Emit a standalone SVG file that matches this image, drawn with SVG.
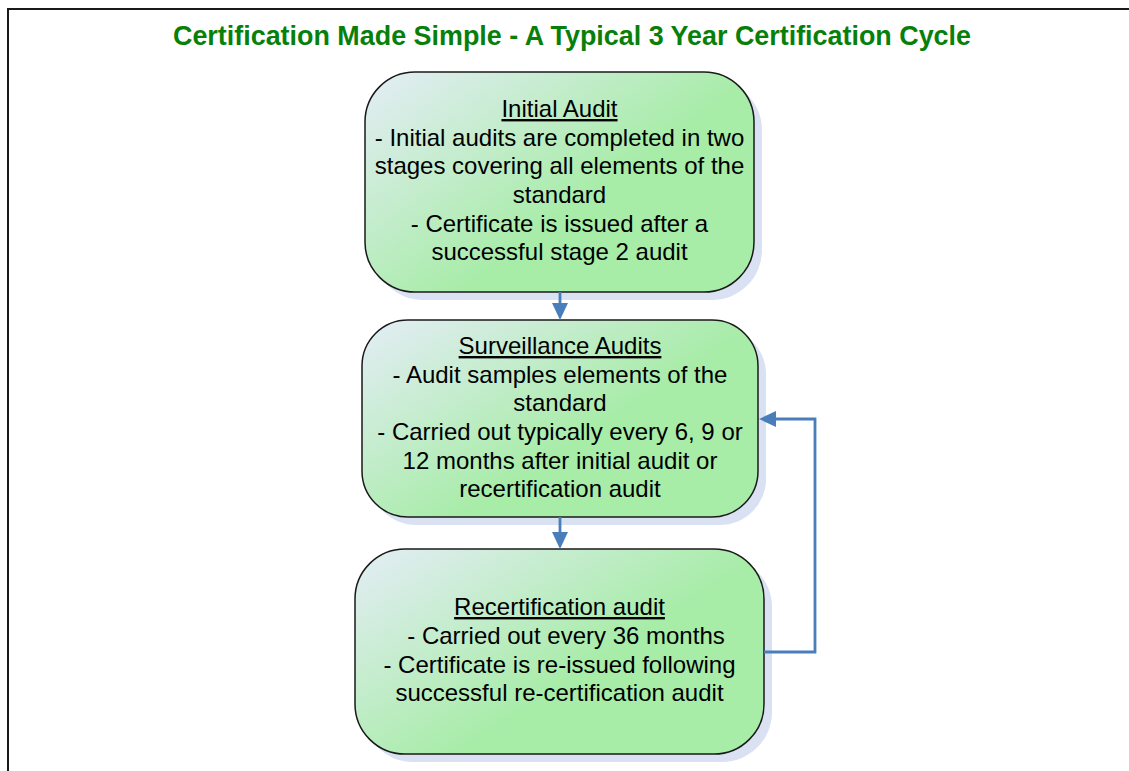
<svg xmlns="http://www.w3.org/2000/svg" width="1129" height="771" viewBox="0 0 1129 771">
<style>
.t{font-family:"Liberation Sans",Arial,sans-serif;font-size:24px;fill:#000;text-anchor:middle}
.h{text-decoration:underline}
.box{fill:url(#g);stroke:#1a1a1a;stroke-width:1.5}
.sh{fill:#d9e1f2}
.c{fill:none;stroke:#4a7ebb;stroke-width:2.8;marker-end:url(#ah)}
</style>
<defs>
<linearGradient id="g" x1="0" y1="0" x2="0.65" y2="0.5">
<stop offset="0" stop-color="#e4edf6"/>
<stop offset="1" stop-color="#a7eca7"/>
</linearGradient>
<marker id="ah" markerUnits="userSpaceOnUse" markerWidth="17" markerHeight="16" refX="9" refY="8" orient="auto">
<path d="M0,0 L17,8 L0,16 z" fill="#4a7ebb"/>
</marker>
</defs>
<rect x="0" y="0" width="1129" height="771" fill="#fff"/>
<rect x="8" y="9" width="1200" height="900" fill="none" stroke="#1a1a1a" stroke-width="2"/>
<text x="572" y="45" style="font-family:'Liberation Sans',Arial,sans-serif;font-size:26.9px;font-weight:bold;fill:#07800a;text-anchor:middle">Certification Made Simple - A Typical 3 Year Certification Cycle</text>
<g id="initial-audit">
<rect class="sh" x="373" y="80" width="389" height="220" rx="50"/>
<rect class="box" x="365" y="72" width="389" height="220" rx="50"/>
<text class="t h" x="559.5" y="117">Initial Audit</text>
<text class="t" x="559.5" y="146">- Initial audits are completed in two</text>
<text class="t" x="559.5" y="174">stages covering all elements of the</text>
<text class="t" x="559.5" y="203">standard</text>
<text class="t" x="559.5" y="232">- Certificate is issued after a</text>
<text class="t" x="559.5" y="260">successful stage 2 audit</text>
</g>
<g id="surveillance-audits">
<rect class="sh" x="370" y="328" width="396" height="197" rx="46"/>
<rect class="box" x="362" y="320" width="396" height="197" rx="46"/>
<text class="t h" x="560" y="354">Surveillance Audits</text>
<text class="t" x="560" y="383">- Audit samples elements of the</text>
<text class="t" x="560" y="411">standard</text>
<text class="t" x="560" y="440">- Carried out typically every 6, 9 or</text>
<text class="t" x="560" y="469">12 months after initial audit or</text>
<text class="t" x="560" y="497">recertification audit</text>
</g>
<g id="recertification-audit">
<rect class="sh" x="363" y="557" width="409" height="205" rx="50"/>
<rect class="box" x="355" y="549" width="409" height="205" rx="50"/>
<text class="t h" x="559.5" y="615">Recertification audit</text>
<text class="t" x="566" y="644">- Carried out every 36 months</text>
<text class="t" x="559.5" y="673">- Certificate is re-issued following</text>
<text class="t" x="559.5" y="701">successful re-certification audit</text>
</g>
<g id="connectors">
<path class="c" d="M560 292 L560 312"/>
<path class="c" d="M560 517 L560 541"/>
<path class="c" d="M764 652 L815 652 L815 419 L767 419"/>
</g>
</svg>
